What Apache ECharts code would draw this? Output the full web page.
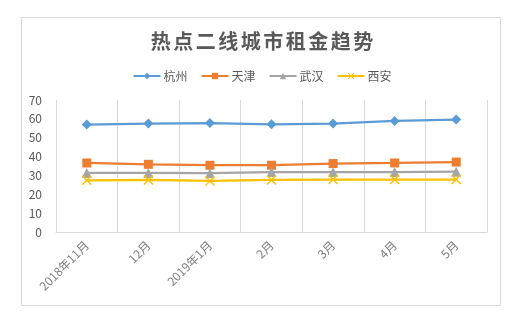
<!DOCTYPE html>
<html>
<head>
<meta charset="utf-8">
<script src="https://cdn.jsdelivr.net/npm/echarts@6/dist/echarts.min.js"></script>
<style>
  html, body { margin: 0; padding: 0; background: #fff; }
  #chart { width: 524px; height: 325px; }
</style>
</head>
<body>
<div id="chart"></div>
<script>
// Monthly rent index per city
const months = ['2018年11月', '12月', '2019年1月', '2月', '3月', '4月', '5月'];
const hangzhou = [57.0, 57.5, 57.8, 57.1, 57.5, 58.9, 59.6];
const tianjin  = [36.6, 35.9, 35.4, 35.4, 36.3, 36.6, 37.1];
const wuhan    = [31.3, 31.3, 31.2, 31.8, 31.8, 31.8, 32.0];
const xian     = [27.4, 27.6, 27.1, 27.6, 27.8, 27.8, 27.8];
const yTicks = { min: 0, max: 70, interval: 10 };

const cities = [
  { name: '杭州', data: hangzhou, color: '#5b9bd5', symbol: 'diamond', size: 10 },
  { name: '天津', data: tianjin,  color: '#ed7d31', symbol: 'rect', size: 9 },
  { name: '武汉', data: wuhan,    color: '#a5a5a5', symbol: 'triangle', size: 10 },
  { name: '西安', data: xian,     color: '#ffc000',
    symbol: 'path://M0,1 L1,0 L5,4 L9,0 L10,1 L6,5 L10,9 L9,10 L5,6 L1,10 L0,9 L4,5 Z', size: 10 }
];

const textColor = '#595959';
const labelColor = '#7f7f7f';
const gridColor = '#d9d9d9';
const font = '"Noto Sans CJK SC", "Noto Sans", sans-serif';

// spread the title glyphs a little
const titleText = '热点二线城市租金趋势'.split('').join('\u200a\u200a');

const chart = echarts.init(document.getElementById('chart'), null, { renderer: 'canvas' });
chart.setOption({
  backgroundColor: '#fff',
  animation: false,
  title: {
    text: titleText,
    left: 'center',
    top: 31,
    padding: 0,
    textStyle: { color: textColor, fontSize: 20, fontWeight: 'bold', fontFamily: font }
  },
  legend: {
    top: 70,
    left: 'center',
    itemWidth: 27,
    itemHeight: 8,
    itemGap: 13,
    padding: 0,
    textStyle: { color: textColor, fontSize: 12, fontFamily: font, padding: [0, 0, 0, -2] },
    data: cities.map(c => c.name)
  },
  graphic: [{
    type: 'rect',
    shape: { x: 21.5, y: 17.5, width: 479, height: 288 },
    style: { fill: 'none', stroke: gridColor, lineWidth: 1 },
    silent: true,
    z: -1
  }],
  grid: { left: 56, right: 37, top: 100, bottom: 93 },
  xAxis: {
    type: 'category',
    data: months,
    boundaryGap: true,
    axisLine: { show: true, lineStyle: { color: gridColor } },
    axisTick: { show: false },
    splitLine: { show: true, lineStyle: { color: gridColor } },
    axisLabel: { rotate: 45, color: labelColor, fontSize: 12, fontFamily: font, margin: 11, interval: 0 }
  },
  yAxis: {
    type: 'value',
    min: yTicks.min,
    max: yTicks.max,
    interval: yTicks.interval,
    axisLine: { show: false },
    axisTick: { show: false },
    splitLine: { show: false },
    axisLabel: { color: textColor, fontSize: 12, fontFamily: font, margin: 14 }
  },
  series: cities.map(c => ({
    name: c.name,
    type: 'line',
    data: c.data,
    symbol: c.symbol,
    symbolSize: c.size,
    showAllSymbol: true,
    lineStyle: { color: c.color, width: 2.25 },
    itemStyle: { color: c.color },
    emphasis: { disabled: true }
  }))
});
</script>
</body>
</html>
